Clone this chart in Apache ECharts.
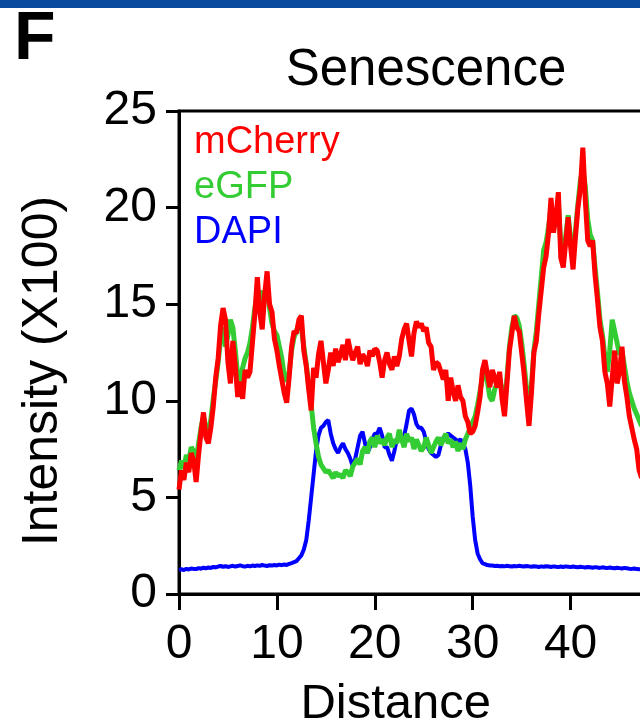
<!DOCTYPE html>
<html><head><meta charset="utf-8">
<script src="https://cdn.jsdelivr.net/npm/echarts@6/dist/echarts.min.js"></script>
<style>html,body{margin:0;padding:0;background:#fff}#c{width:640px;height:723px}</style>
</head><body><div id="c"></div>
<script>
// sampling step along Distance
const step = 0.25;
const xTicks = [0, 10, 20, 30, 40, 50];
const yTicks = [0, 5, 10, 15, 20, 25];
const seriesNames = ['mCherry', 'eGFP', 'DAPI'];

const mCherry = [
  5.4, 6.4, 5.9, 6.8, 6.3, 7.3, 6.9, 5.8,
  7.2, 8.4, 9.4, 8.1, 7.8, 8.6, 9.7, 11.2,
  12.2, 13.9, 14.8, 14.2, 12.0, 10.9, 13.1, 11.8,
  10.2, 11.0, 10.1, 11.6, 11.2, 11.5, 13.0, 14.5,
  16.4, 14.6, 13.7, 15.5, 16.7, 15.0, 14.6, 13.2,
  12.6, 11.8, 11.1, 10.4, 9.9, 11.2, 12.8, 13.6,
  13.5, 14.2, 14.4, 12.6, 11.8, 10.6, 9.5, 11.7,
  11.2, 12.4, 13.1, 12.0, 10.9, 11.6, 12.5, 11.8,
  12.7, 12.0, 12.4, 12.9, 12.1, 13.2, 12.6, 12.1,
  12.5, 12.8, 11.9, 12.4, 12.2, 11.8, 12.6, 12.3,
  12.7, 12.6, 12.0, 11.2, 12.1, 12.5, 11.9, 11.6,
  12.3, 11.8, 12.3, 13.2, 13.7, 14.0, 13.1, 12.3,
  13.5, 14.1, 13.8, 14.0, 13.6, 13.8, 13.0, 12.8,
  11.6, 12.0, 11.9, 11.5, 11.1, 11.6, 10.0, 11.2,
  10.5, 10.0, 10.8, 10.2, 10.0, 9.2, 8.9, 8.3,
  8.4, 8.7, 9.4, 10.2, 11.6, 12.1, 11.4, 10.7,
  11.6, 11.2, 10.7, 11.5, 10.1, 9.2, 10.9, 12.6,
  13.5, 14.4, 13.8, 13.6, 12.5, 11.4, 10.0, 8.7,
  10.4, 12.5, 13.1, 14.5, 15.7, 16.9, 17.5, 18.7,
  20.5, 18.7, 19.5, 20.8, 17.4, 16.9, 18.2, 19.5,
  18.0, 16.8, 18.5, 20.0, 21.0, 23.1, 20.4, 18.3,
  18.0, 18.3, 16.5, 15.2, 13.8, 13.1, 11.5, 10.9,
  9.7, 11.2, 12.6, 10.9, 11.5, 12.8, 11.0, 10.2,
  9.2, 8.6, 8.0, 7.5, 6.4, 6.0
];

const eGFP = [
  6.4, 6.9, 6.5, 7.2, 6.9, 7.6, 7.4, 6.8,
  7.8, 8.6, 9.2, 8.6, 8.4, 9.0, 10.1, 11.0,
  12.0, 13.2, 13.8, 12.8, 13.4, 14.2, 13.8, 12.6,
  11.3, 11.0, 11.7, 12.2, 12.5, 13.0, 13.8, 14.8,
  15.6, 15.2, 15.7, 15.1, 15.8, 14.8, 14.0, 13.6,
  13.4, 12.8, 12.2, 11.3, 11.0, 11.5, 12.6, 13.3,
  13.6, 14.0, 13.8, 12.8, 11.9, 10.8, 9.8, 8.6,
  7.8, 7.1, 6.7, 6.5, 6.3, 6.4, 6.2, 6.0,
  6.3, 6.1, 6.2, 6.0, 6.4, 6.3, 6.1, 6.6,
  6.8, 7.0, 6.7, 7.4, 7.6, 7.3, 7.9, 8.1,
  7.6, 8.2, 7.8, 8.0, 7.7, 8.1, 8.3, 7.6,
  8.0, 7.8, 8.5, 8.0, 7.6, 8.3, 7.9, 8.1,
  7.5, 8.0, 7.7, 7.4, 7.6, 8.1, 7.7, 7.3,
  7.6, 7.9, 8.1, 7.7, 8.0, 8.3, 7.8, 8.0,
  7.6, 7.9, 7.4, 7.8, 7.5, 8.0, 8.3, 8.6,
  8.9, 9.2, 9.8, 10.5, 11.2, 11.6, 11.0, 10.2,
  10.0, 10.6, 10.9, 11.2, 10.5, 9.8, 11.2, 12.8,
  13.8, 14.4, 14.3, 13.9, 13.0, 11.9, 10.6, 9.6,
  10.8, 12.6, 13.6, 15.0, 16.4, 17.8, 18.2, 19.0,
  20.0, 19.1, 19.6, 20.3, 18.0, 17.4, 18.5, 19.6,
  18.4, 17.4, 18.8, 20.2, 21.4, 22.0, 21.1, 19.4,
  18.6, 18.3, 16.9, 15.6, 14.2, 13.4, 12.3, 11.5,
  12.6, 14.2, 13.6, 13.0, 12.4, 12.6, 11.8, 11.0,
  10.4, 10.0, 9.6, 9.3, 9.0, 8.7
];

const DAPI = [
  1.25, 1.28, 1.24, 1.30, 1.27, 1.32, 1.30, 1.29,
  1.34, 1.31, 1.36, 1.33, 1.37, 1.35, 1.40, 1.38,
  1.42, 1.45, 1.41, 1.44, 1.40, 1.43, 1.46, 1.42,
  1.45, 1.48, 1.44, 1.42, 1.46, 1.43, 1.47, 1.45,
  1.48, 1.46, 1.50, 1.47, 1.45, 1.49, 1.47, 1.50,
  1.48, 1.52, 1.49, 1.53, 1.50, 1.56, 1.60, 1.65,
  1.70, 1.85, 2.0, 2.3, 2.8, 3.8, 5.0, 6.2,
  7.4, 8.2, 8.6, 8.7, 8.9, 9.0, 8.3, 7.8,
  7.5, 7.3, 7.6, 7.8, 7.5, 7.3, 7.0, 6.6,
  7.0, 7.6, 8.2, 8.4, 7.8, 7.3, 7.6, 8.0,
  8.3, 8.3, 8.6, 8.2, 7.6, 7.6, 7.2, 6.9,
  7.4, 8.0, 8.1, 8.0, 8.2, 8.8, 9.5, 9.6,
  9.3, 8.8, 8.6, 8.6, 8.4, 7.9, 7.5, 7.3,
  7.2, 7.1, 7.2, 7.7, 8.1, 8.2, 8.3, 8.2,
  8.1, 8.0, 7.9, 8.0, 7.8, 7.5, 6.8, 5.6,
  4.0, 2.8, 2.1, 1.8, 1.6, 1.55, 1.50, 1.48,
  1.47, 1.45, 1.46, 1.44, 1.45, 1.43, 1.46, 1.44,
  1.42, 1.45, 1.43, 1.46, 1.44, 1.42, 1.45, 1.43,
  1.41, 1.44, 1.42, 1.40, 1.43, 1.41, 1.44, 1.42,
  1.40, 1.43, 1.41, 1.39, 1.42, 1.40, 1.43, 1.41,
  1.39, 1.42, 1.40, 1.38, 1.41, 1.39, 1.37, 1.40,
  1.38, 1.36, 1.39, 1.37, 1.35, 1.38, 1.36, 1.34,
  1.37, 1.35, 1.33, 1.36, 1.34, 1.32, 1.35, 1.33,
  1.31, 1.30, 1.32, 1.29, 1.28, 1.27
];

const FONT = '"Liberation Sans", Arial, Helvetica, sans-serif';
const colors = { mCherry: '#ff0000', eGFP: '#33cc33', DAPI: '#0000ff' };

function pairs(arr) { return arr.map((v, i) => [i * step, v]); }

const chart = echarts.init(document.getElementById('c'), null, { renderer: 'canvas' });
chart.setOption({
  animation: false,
  backgroundColor: '#ffffff',
  graphic: [
    { type: 'rect', left: 0, top: 0, shape: { width: 640, height: 8 }, style: { fill: '#0a4a9e' } },
    { type: 'text', x: 14, y: 6, style: { text: 'F', font: 'bold 68px ' + FONT, fill: '#000', align: 'left', verticalAlign: 'top' } },
    { type: 'text', x: 426, y: 45, style: { text: 'Senescence', font: '51px ' + FONT, fill: '#000', align: 'center', verticalAlign: 'top' } }
  ],
  legend: {
    orient: 'vertical', left: 184, top: 118, icon: 'none', itemWidth: 0, itemHeight: 0, itemGap: 5,
    selectedMode: false,
    textStyle: { fontSize: 38, fontFamily: FONT, lineHeight: 40 },
    data: seriesNames.map(n => ({ name: n, textStyle: { color: colors[n] } }))
  },
  grid: { left: 179, top: 111, width: 489.5, height: 483, outerBoundsMode: 'none', containLabel: false,
    show: true, borderColor: '#000', borderWidth: 3, backgroundColor: 'transparent' },
  xAxis: {
    type: 'value', min: xTicks[0], max: xTicks[xTicks.length - 1], interval: 10,
    axisLine: { lineStyle: { color: '#000', width: 3 } },
    axisTick: { length: 16, lineStyle: { color: '#000', width: 3 } },
    axisLabel: { fontSize: 48, color: '#000', fontFamily: FONT, margin: 27 },
    splitLine: { show: false },
    name: 'Distance', nameLocation: 'middle', nameGap: 86,
    nameTextStyle: { fontSize: 49, color: '#000', fontFamily: FONT, padding: [0, 56, 0, 0] }
  },
  yAxis: {
    type: 'value', min: yTicks[0], max: yTicks[yTicks.length - 1], interval: 5,
    axisLine: { show: true, lineStyle: { color: '#000', width: 3 } },
    axisTick: { show: true, length: 13, lineStyle: { color: '#000', width: 3 } },
    axisLabel: { fontSize: 48, color: '#000', fontFamily: FONT, margin: 22 },
    splitLine: { show: false },
    name: 'Intensity (X100)', nameLocation: 'middle', nameGap: 111, nameRotate: 90,
    nameTextStyle: { fontSize: 50, color: '#000', fontFamily: FONT, padding: [0, 37, 0, 0] }
  },
  series: [
    { name: 'DAPI', type: 'line', data: pairs(DAPI), showSymbol: false, symbol: 'none',
      lineStyle: { color: colors.DAPI, width: 4 }, itemStyle: { color: colors.DAPI } },
    { name: 'eGFP', type: 'line', data: pairs(eGFP), showSymbol: false, symbol: 'none',
      lineStyle: { color: colors.eGFP, width: 5 }, itemStyle: { color: colors.eGFP } },
    { name: 'mCherry', type: 'line', data: pairs(mCherry), showSymbol: false, symbol: 'none',
      lineStyle: { color: colors.mCherry, width: 5 }, itemStyle: { color: colors.mCherry } }
  ]
});
</script></body></html>
